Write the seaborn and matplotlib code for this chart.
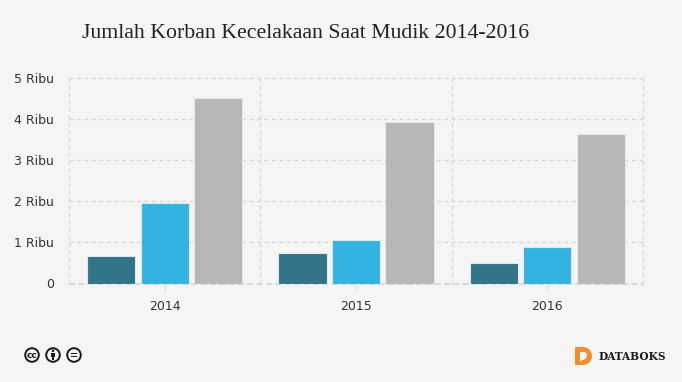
import matplotlib
matplotlib.use('Agg')
import matplotlib.pyplot as plt
from matplotlib.patches import Circle, Rectangle, Wedge, Polygon
import pandas as pd
import seaborn as sns

years = ['2014', '2015', '2016']
series_names = ['A', 'B', 'C']
series_a = [680, 730, 510]
series_b = [1950, 1070, 890]
series_c = [4520, 3930, 3640]
y_ticks = [0, 1000, 2000, 3000, 4000, 5000]
y_labels = ['0', '1 Ribu', '2 Ribu', '3 Ribu', '4 Ribu', '5 Ribu']
colors = ['#2f7286', '#2fb3e0', '#b6b6b8']
title = 'Jumlah Korban Kecelakaan Saat Mudik 2014-2016'
W, H = 682, 382
BG = '#f5f5f5'

df = pd.DataFrame({
    'year': years * 3,
    'series': sum([[n] * 3 for n in series_names], []),
    'value': series_a + series_b + series_c,
})

sns.set_style('white')
fig = plt.figure(figsize=(W / 100, H / 100), dpi=100, facecolor=BG)
ax = fig.add_axes([69 / W, 1 - 283.5 / H, (643 - 69) / W, (283.5 - 78) / H], facecolor=BG)

sns.barplot(data=df, x='year', y='value', hue='series', palette=colors, width=0.84, gap=0.1,
            saturation=1, legend=False, ax=ax, edgecolor='#e4e8ea', linewidth=0.8, alpha=0.98, zorder=3)

ax.set_xlim(-0.5, 2.5)
ax.set_ylim(0, 5000)
ax.set_xlabel('')
ax.set_ylabel('')
ax.set_yticks(y_ticks)
ax.set_yticklabels(y_labels)
ax.tick_params(axis='y', length=0, pad=11, labelsize=9, labelcolor='#333333')
ax.tick_params(axis='x', bottom=True, length=4, width=0.8, color='#d8d8d8', pad=8, labelsize=9, labelcolor='#333333')

# dashed grid, vertical lines sit on the category edges
for y in y_ticks[1:]:
    ax.axhline(y, color='#d6d6d6', lw=0.9, ls=(0, (3, 3)), zorder=1, clip_on=False)
for x in [-0.5, 0.5, 1.5, 2.5]:
    ax.axvline(x, color='#d6d6d6', lw=0.9, ls=(0, (3, 3)), zorder=1, clip_on=False)
ax.axhline(0, color='#d9d9d9', lw=1.5, ls=(0, (3, 1.5)), zorder=2, clip_on=False)
sns.despine(ax=ax, left=True, bottom=True, top=True, right=True)

fig.text(82 / W, 1 - 33 / H, title, fontsize=15.65, family='Liberation Serif', color='#222222', va='center', ha='left')

# overlay in pixel coordinates for cc badges and logo
ov = fig.add_axes([0, 0, 1, 1], facecolor='none')
ov.set_xlim(0, W)
ov.set_ylim(H, 0)
ov.axis('off')

for cx in [32, 53, 74]:
    ov.add_patch(Circle((cx, 355), 6.8, fc=BG, ec='#1a1a1a', lw=1.4))
ov.text(32, 355, 'cc', fontsize=6.5, fontweight='bold', ha='center', va='center', color='#1a1a1a')
ov.add_patch(Circle((53, 350.8), 1.3, fc='#1a1a1a', ec='none'))
ov.add_patch(Rectangle((51.2, 352.8), 3.6, 4.2, fc='#1a1a1a', ec='none'))
ov.add_patch(Rectangle((52, 356), 2, 4, fc='#1a1a1a', ec='none'))
ov.add_patch(Rectangle((71, 352.5), 6, 1.4, fc='#1a1a1a', ec='none'))
ov.add_patch(Rectangle((71, 355.9), 6, 1.4, fc='#1a1a1a', ec='none'))

# databoks D mark
ov.add_patch(Rectangle((575, 347), 8, 18, fc='#f68b2a', ec='none'))
ov.add_patch(Wedge((583, 356), 9, -90, 90, fc='#f68b2a', ec='none'))
ov.add_patch(Rectangle((580, 351.5), 3.5, 8, fc=BG, ec='none'))
ov.add_patch(Wedge((583, 355.5), 4, -90, 90, fc=BG, ec='none'))
ov.add_patch(Polygon([(580, 359), (583, 359), (580, 362)], fc=BG, ec='none'))
ov.text(598, 356, 'DATABOKS', fontsize=7.6, fontweight='bold', family='DejaVu Serif', ha='left', va='center', color='#1a1a1a')

fig.savefig('out.png', dpi=100, facecolor=BG)
